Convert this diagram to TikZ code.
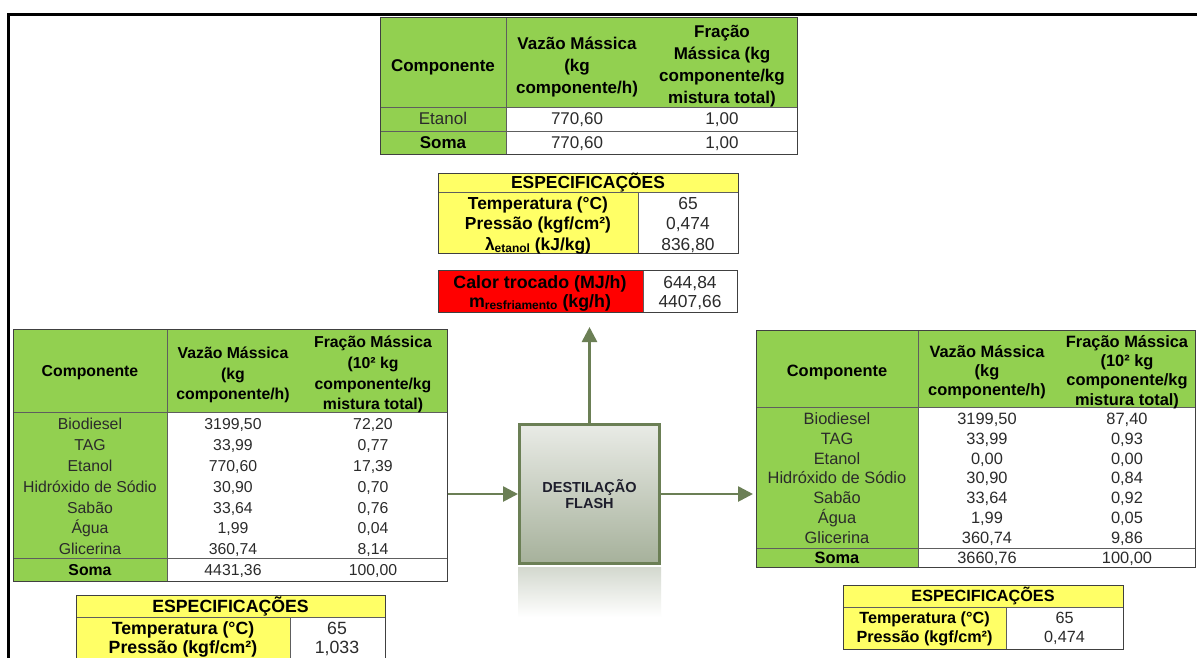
\documentclass[tikz,border=0pt]{standalone}
\usepackage{fontspec}
\setmainfont{Liberation Sans}
\usetikzlibrary{arrows.meta}

\definecolor{cellgreen}{HTML}{92D050}
\definecolor{cellyellow}{HTML}{FFFF66}
\definecolor{cellred}{HTML}{FF0000}
\definecolor{gridgray}{HTML}{5E5E5E}
\definecolor{framegray}{HTML}{404040}
\definecolor{txtgray}{HTML}{2B2B2B}
\definecolor{flowgreen}{HTML}{6B7F55}
\definecolor{boxtop}{HTML}{E9EBE6}
\definecolor{boxbottom}{HTML}{A6B19B}
\definecolor{glow}{HTML}{D3D8CE}
\definecolor{boxtext}{HTML}{1E1E2C}

% one table row: name prefix, style, y, then x/text for the three columns
\newcommand{\trow}[9]{%
  \node[#2] (#1-a) at (#4,#3) {#5};
  \node[#2] (#1-b) at (#6,#3) {#7};
  \node[#2] (#1-c) at (#8,#3) {#9};}
\newcommand{\lowsub}[1]{\raisebox{-0.13em}{\fontsize{12}{12}\selectfont #1}}

\begin{document}
\begin{tikzpicture}[x=1pt,y=-1pt,
  cell/.style={inner sep=0pt, text=txtgray},
  hcell/.style={inner sep=0pt, text=black, align=center},
  bcell/.style={inner sep=0pt, text=black},
  rule/.style={draw=gridgray, line width=0.8pt},
  tabframe/.style={draw=framegray, line width=1pt},
  % single-line cells keep a fixed box so every row sits on the same centre line
  fix17/.style={text height=15.3pt, text depth=3.4pt},
  fix158/.style={text height=14.2pt, text depth=3.2pt},
  fix164/.style={text height=14.8pt, text depth=3.3pt},
  fix174/.style={text height=15.7pt, text depth=3.5pt},
  fix177/.style={text height=15.9pt, text depth=3.5pt},
  fix162/.style={text height=14.6pt, text depth=3.2pt},
  fix178/.style={text height=16.0pt, text depth=3.6pt},
  tb/.style={cell, fix17, font=\fontsize{17}{22}\selectfont},
  th/.style={hcell, font=\fontsize{17}{22}\selectfont\bfseries},
  tbb/.style={bcell, fix17, font=\fontsize{17}{22}\selectfont\bfseries},
  lb/.style={cell, fix158, font=\fontsize{15.8}{20.8}\selectfont},
  lh/.style={hcell, font=\fontsize{15.8}{20.8}\selectfont\bfseries},
  lbb/.style={bcell, fix158, font=\fontsize{15.8}{20.8}\selectfont\bfseries},
  rb/.style={cell, fix164, font=\fontsize{16.4}{19.3}\selectfont},
  rh/.style={hcell, font=\fontsize{16.4}{19.3}\selectfont\bfseries},
  rbb/.style={bcell, fix164, font=\fontsize{16.4}{19.3}\selectfont\bfseries},
  sb/.style={cell, fix174, font=\fontsize{17.4}{20}\selectfont},
  sh/.style={bcell, fix174, font=\fontsize{17.4}{20}\selectfont\bfseries},
  qb/.style={cell, fix177, font=\fontsize{17.7}{20}\selectfont},
  qh/.style={bcell, fix177, font=\fontsize{17.7}{20}\selectfont\bfseries},
  pb/.style={cell, fix162, font=\fontsize{16.2}{20}\selectfont},
  ph/.style={bcell, fix162, font=\fontsize{16.2}{20}\selectfont\bfseries},
  hb/.style={bcell, fix178, font=\fontsize{17.8}{20}\selectfont\bfseries},
  hv/.style={cell, fix174, font=\fontsize{17.4}{20}\selectfont},
  procbox/.style={draw=flowgreen, line width=3pt, top color=boxtop, bottom color=boxbottom,
    minimum width=140pt, minimum height=139pt, inner sep=0pt, align=center,
    text=boxtext, font=\fontsize{14.5}{16.5}\selectfont\bfseries},
  mirror/.style={top color=glow, bottom color=white, draw=none,
    minimum width=143pt, minimum height=50pt, inner sep=0pt},
  flow/.style={draw=flowgreen, line width=2.6pt, -{Triangle[length=15pt,width=15pt]}}
]
\useasboundingbox (0,0) rectangle (1197,657);
\clip (0,0) rectangle (1197,657);
\fill[white] (0,0) rectangle (1197,657);

% page frame
\draw[line width=2.5pt, black] (8.5,680) -- (8.5,14.5) -- (1220,14.5);

% ---------- vapour stream table (top) ----------
\fill[cellgreen] (380,17) rectangle (797,107);
\fill[cellgreen] (380,107) rectangle (506,154);
\draw[rule] (380,107) -- (797,107) (380,131) -- (797,131) (506,17) -- (506,154);
\draw[tabframe] (380,17) rectangle (797,154);
\node[th] (top-comp) at (443,67) {Componente};
\node[th] (top-vaz) at (577,67.5) {Vazão Mássica\\(kg\\componente/h)};
\node[th] (top-frac) at (722,66) {Fração\\Mássica (kg\\componente/kg\\mistura total)};
\trow{top-r1}{tb}{119}{443}{Etanol}{577}{770,60}{722}{1,00}
\node[tbb] (top-soma) at (443,143) {Soma};
\node[tb] (top-soma-b) at (577,143) {770,60};
\node[tb] (top-soma-c) at (722,143) {1,00};

% ---------- specifications of the flash unit ----------
\fill[cellyellow] (438,173) rectangle (738,192);
\fill[cellyellow] (438,192) rectangle (638,253);
\draw[rule] (438,192) -- (738,192) (638,192) -- (638,253);
\draw[tabframe] (438,173) rectangle (738,253);
\node[sh] (spec-title) at (588,182.5) {ESPECIFICAÇÕES};
\node[sh] (spec-t) at (538,203) {Temperatura (°C)};
\node[sh] (spec-p) at (538,223.5) {Pressão (kgf/cm²)};
\node[sh] (spec-l) at (538,244) {λ\lowsub{etanol} (kJ/kg)};
\node[sb] (spec-tv) at (688,203) {65};
\node[sb] (spec-pv) at (688,223.5) {0,474};
\node[sb] (spec-lv) at (688,244) {836,80};

% ---------- heat duty ----------
\fill[cellred] (438,270) rectangle (643,312);
\draw[rule] (643,270) -- (643,312);
\draw[tabframe] (438,270) rectangle (737,312);
\node[hb] (heat-q) at (540,282) {Calor trocado (MJ/h)};
\node[hb] (heat-m) at (540,301) {m\lowsub{resfriamento} (kg/h)};
\node[hv] (heat-qv) at (690,282) {644,84};
\node[hv] (heat-mv) at (690,301) {4407,66};

% ---------- feed table (left) ----------
\fill[cellgreen] (13,329) rectangle (447,412);
\fill[cellgreen] (13,412) rectangle (167,581);
\draw[rule] (13,412) -- (447,412) (13,558) -- (447,558) (167,329) -- (167,581);
\draw[tabframe] (13,329) rectangle (447,581);
\node[lh] (in-comp) at (90,373) {Componente};
\node[lh] (in-vaz) at (233,375) {Vazão Mássica\\(kg\\componente/h)};
\node[lh] (in-frac) at (373,374.5) {Fração Mássica\\(10² kg\\componente/kg\\mistura total)};
\trow{in-r1}{lb}{424}{90}{Biodiesel}{233}{3199,50}{373}{72,20}
\trow{in-r2}{lb}{445}{90}{TAG}{233}{33,99}{373}{0,77}
\trow{in-r3}{lb}{466}{90}{Etanol}{233}{770,60}{373}{17,39}
\trow{in-r4}{lb}{487}{90}{Hidróxido de Sódio}{233}{30,90}{373}{0,70}
\trow{in-r5}{lb}{507.5}{90}{Sabão}{233}{33,64}{373}{0,76}
\trow{in-r6}{lb}{528}{90}{Água}{233}{1,99}{373}{0,04}
\trow{in-r7}{lb}{549}{90}{Glicerina}{233}{360,74}{373}{8,14}
\node[lbb] (in-soma) at (90,570) {Soma};
\node[lb] (in-soma-b) at (233,570) {4431,36};
\node[lb] (in-soma-c) at (373,570) {100,00};

% ---------- feed specifications ----------
\fill[cellyellow] (76,595) rectangle (385,617);
\fill[cellyellow] (76,617) rectangle (290,680);
\draw[rule] (76,617) -- (385,617) (290,617) -- (290,680);
\draw[tabframe] (76,595) rectangle (385,680);
\node[qh] (feed-title) at (230.5,606) {ESPECIFICAÇÕES};
\node[qh] (feed-t) at (183,628) {Temperatura (°C)};
\node[qh] (feed-p) at (183,647) {Pressão (kgf/cm²)};
\node[qb] (feed-tv) at (337,628) {65};
\node[qb] (feed-pv) at (337,647) {1,033};

% ---------- liquid product table (right) ----------
\fill[cellgreen] (756,330) rectangle (1195,407);
\fill[cellgreen] (756,407) rectangle (918,567);
\draw[rule] (756,407) -- (1195,407) (756,548) -- (1195,548) (918,330) -- (918,567);
\draw[tabframe] (756,330) rectangle (1195,567);
\node[rh] (out-comp) at (837,372) {Componente};
\node[rh] (out-vaz) at (987,372) {Vazão Mássica\\(kg\\componente/h)};
\node[rh] (out-frac) at (1127,372) {Fração Mássica\\(10² kg\\componente/kg\\mistura total)};
\trow{out-r1}{rb}{419}{837}{Biodiesel}{987}{3199,50}{1127}{87,40}
\trow{out-r2}{rb}{439}{837}{TAG}{987}{33,99}{1127}{0,93}
\trow{out-r3}{rb}{458.5}{837}{Etanol}{987}{0,00}{1127}{0,00}
\trow{out-r4}{rb}{478}{837}{Hidróxido de Sódio}{987}{30,90}{1127}{0,84}
\trow{out-r5}{rb}{498}{837}{Sabão}{987}{33,64}{1127}{0,92}
\trow{out-r6}{rb}{518}{837}{Água}{987}{1,99}{1127}{0,05}
\trow{out-r7}{rb}{537.5}{837}{Glicerina}{987}{360,74}{1127}{9,86}
\node[rbb] (out-soma) at (837,557.5) {Soma};
\node[rb] (out-soma-b) at (987,557.5) {3660,76};
\node[rb] (out-soma-c) at (1127,557.5) {100,00};

% ---------- product specifications ----------
\fill[cellyellow] (843,585) rectangle (1123,607);
\fill[cellyellow] (843,607) rectangle (1006,649);
\draw[rule] (843,607) -- (1123,607) (1006,607) -- (1006,649);
\draw[tabframe] (843,585) rectangle (1123,649);
\node[ph] (prod-title) at (983,596) {ESPECIFICAÇÕES};
\node[ph] (prod-t) at (924.5,618) {Temperatura (°C)};
\node[ph] (prod-p) at (924.5,637) {Pressão (kgf/cm²)};
\node[pb] (prod-tv) at (1064.5,618) {65};
\node[pb] (prod-pv) at (1064.5,637) {0,474};

% ---------- flash unit and streams ----------
\node[mirror] (flash-mirror) at (589.5,592) {};
\node[procbox] (flash) at (589.5,494) {DESTILAÇÃO\\FLASH};
\coordinate (feed-in) at (448,494);
\coordinate (liq-out) at (753,494);
\coordinate (vap-out) at (589.5,327);
\draw[flow] (feed-in) -- (flash.west);
\draw[flow] (flash.east) -- (liq-out);
\draw[flow] (flash.north) -- (vap-out);
\end{tikzpicture}
\end{document}
